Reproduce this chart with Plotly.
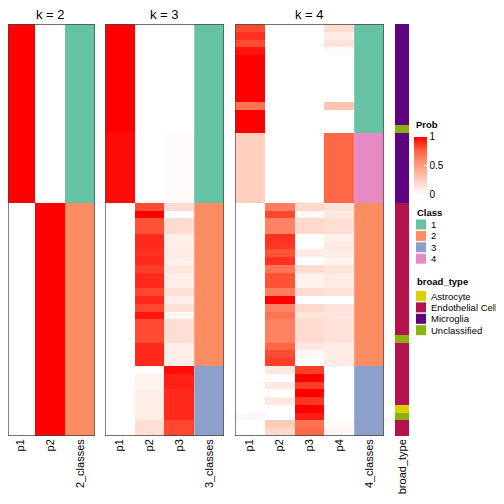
import plotly.graph_objects as go

# The page body has an 8px margin; the figure is sized so that it fills the 504px window.
OFF = 8
W = H = 504 - OFF

# ---------------- data ----------------
k2_p1 = [1.0] * 23 + [0.0] * 30
k2_p2 = [0.0] * 23 + [1.0] * 30
k2_class = [1] * 23 + [2] * 30

k3_p1 = [1.0] * 14 + [0.97] * 9 + [0.0] * 30
k3_p2 = [0.0] * 23 + [0.82, 1.0, 0.8, 0.8, 0.9, 0.9, 0.88, 0.9, 0.85, 0.9, 0.9, 0.83, 0.9, 0.83,
                      0.95, 0.82, 0.82, 0.82, 0.9, 0.9, 0.9] + \
        [0.01, 0.06, 0.06, 0.09, 0.09, 0.09, 0.09, 0.17, 0.17]
k3_p3 = [0.0] * 14 + [0.02] * 9 + [0.18, 0.0, 0.18, 0.18, 0.09, 0.09, 0.11, 0.08, 0.13, 0.09, 0.09,
                                    0.16, 0.09, 0.16, 0.04, 0.17, 0.17, 0.16, 0.09, 0.09, 0.09] + \
        [0.97, 0.92, 0.92, 0.9, 0.9, 0.9, 0.9, 0.83, 0.83]
k3_class = [1] * 23 + [2] * 21 + [3] * 9

k4_p1 = [0.82, 0.88, 0.82, 0.95, 1, 1, 1, 1, 1, 1, 0.7, 1, 1, 1] + [0.25] * 9 + \
        [0.0] * 27 + [0.04, 0.0, 0.0]
k4_p2 = [0.0] * 23 + [0.65, 0.83, 0.62, 0.62, 0.88, 0.87, 0.8, 0.88, 0.68, 0.8, 0.8, 0.65, 1.0,
                      0.62, 0.7, 0.63, 0.63, 0.63, 0.75, 0.82, 0.85] + \
        [0.12, 0.0, 0.12, 0.0, 0.12, 0.0, 0.0, 0.27, 0.2]
k4_p3 = [0.0] * 23 + [0.2, 0.03, 0.2, 0.2, 0.0, 0.0, 0.1, 0.0, 0.18, 0.06, 0.07, 0.18, 0.0, 0.2,
                      0.14, 0.18, 0.18, 0.18, 0.13, 0.04, 0.0] + \
        [0.85, 1.0, 0.85, 1.0, 0.87, 1.0, 0.93, 0.7, 0.75]
k4_p4 = [0.18, 0.1, 0.15, 0.03, 0, 0, 0, 0, 0, 0, 0.3, 0, 0, 0] + [0.75] * 9 + \
        [0.15, 0.12, 0.17, 0.17, 0.08, 0.11, 0.1, 0.06, 0.14, 0.1, 0.1, 0.15, 0.0, 0.15, 0.13,
         0.15, 0.15, 0.15, 0.1, 0.1, 0.1] + [0, 0, 0, 0, 0, 0, 0, 0.02, 0.05]
k4_class = [1] * 14 + [4] * 9 + [2] * 21 + [3] * 9

broad_type = (["Microglia"] * 13 + ["Unclassified"] + ["Microglia"] * 9 +
              ["Endothelial Cell"] * 17 + ["Unclassified"] + ["Endothelial Cell"] * 8 +
              ["Astrocyte"] + ["Unclassified"] + ["Endothelial Cell"] * 2)

class_labels = ["1", "2", "3", "4"]
class_colors = ["#66C2A5", "#FC8D62", "#8DA0CB", "#E78AC3"]
bt_labels = ["Astrocyte", "Endothelial Cell", "Microglia", "Unclassified"]
bt_colors = ["#DCD100", "#B3124D", "#5D037F", "#8BB10A"]

prob_scale = [[0, "#FFFFFF"], [0.25, "#FFCFBF"], [0.5, "#FF9E81"], [0.75, "#FF6846"], [1, "#FF0000"]]

N = len(k2_p1)
rows = list(range(N))


def discrete_scale(colors):
    n = len(colors)
    sc = []
    for i, c in enumerate(colors):
        sc.append([i / n, c])
        sc.append([(i + 1) / n, c])
    return sc


def px(v):
    return (v - OFF) / W


def py(v):
    return 1 - (v - OFF) / H


fig = go.Figure()

panels = [
    ("x", [k2_p1, k2_p2], k2_class, (5, 95), "k = 2"),
    ("x2", [k3_p1, k3_p2, k3_p3], k3_class, (105, 224), "k = 3"),
    ("x3", [k4_p1, k4_p2, k4_p3, k4_p4], k4_class, (235, 384), "k = 4"),
]

font_fam = "Liberation Sans, Arial, sans-serif"
ydom = [py(436), py(24)]

shapes = []
annotations = []

for idx, (xa, probs, cls, (x0, x1), title) in enumerate(panels):
    k = len(probs)
    z = [[p[i] for p in probs] for i in rows]
    fig.add_trace(go.Heatmap(
        z=z, x=list(range(k)), y=rows, xaxis=xa, yaxis="y",
        colorscale=prob_scale, zmin=0, zmax=1,
        showscale=(idx == 0),
        colorbar=dict(
            x=px(414), xanchor="left", y=py(165.5), yanchor="middle",
            len=58, lenmode="pixels", thickness=13, thicknessmode="pixels",
            outlinewidth=0, xpad=0, ypad=0,
            tickvals=[0, 0.5, 1], ticktext=["0", "0.5", "1"],
            ticks="inside", ticklen=3, tickcolor="white",
            tickfont=dict(size=10, family=font_fam, color="black"),
        ),
        hoverinfo="skip",
    ))
    fig.add_trace(go.Heatmap(
        z=[[c] for c in cls], x=[k], y=rows, xaxis=xa, yaxis="y",
        colorscale=discrete_scale(class_colors), zmin=0.5, zmax=4.5,
        showscale=False, hoverinfo="skip",
    ))
    # clip the panel to the visible page area, keeping cell widths unchanged
    colw = (x1 - x0) / (k + 1)
    vis_x0 = max(x0, OFF)
    r0 = -0.5 + (vis_x0 - x0) / colw
    axname = "xaxis" if xa == "x" else "xaxis" + xa[1:]
    fig.layout[axname] = dict(
        domain=[px(vis_x0), px(x1)], range=[r0, k + 0.5], anchor="y",
        tickmode="array", tickvals=list(range(k + 1)),
        ticktext=[f"p{j + 1}" for j in range(k)] + [f"{k}_classes"],
        tickangle=-90, showgrid=False, zeroline=False, showline=False, ticks="",
        tickfont=dict(size=11, family=font_fam, color="black"), fixedrange=True,
        automargin=False,
    )
    shapes.append(dict(type="rect", xref=xa, yref="y", x0=r0, x1=k + 0.5, y0=-0.5, y1=N - 0.5,
                       line=dict(color="#444444", width=1.3), fillcolor="rgba(0,0,0,0)"))
    annotations.append(dict(text=title, x=px((x0 + x1) / 2), y=py(14.5), xref="paper", yref="paper",
                            showarrow=False, font=dict(size=13, family=font_fam, color="black"),
                            xanchor="center", yanchor="middle", borderpad=0))

# broad_type annotation column
bt_codes = [bt_labels.index(b) + 1 for b in broad_type]
fig.add_trace(go.Heatmap(
    z=[[c] for c in bt_codes], x=[0], y=rows, xaxis="x4", yaxis="y",
    colorscale=discrete_scale(bt_colors), zmin=0.5, zmax=4.5,
    showscale=False, hoverinfo="skip",
))
fig.layout["xaxis4"] = dict(
    domain=[px(395), px(409)], range=[-0.5, 0.5], anchor="y",
    tickmode="array", tickvals=[0], ticktext=["broad_type"], tickangle=-90,
    showgrid=False, zeroline=False, showline=False, ticks="",
    tickfont=dict(size=11, family=font_fam, color="black"), fixedrange=True,
    automargin=False,
)

fig.layout["yaxis"] = dict(domain=ydom, range=[N - 0.5, -0.5], visible=False, fixedrange=True)

# legends
legend_font = dict(size=9.5, family=font_fam, color="black")
annotations.append(dict(text="<b>Prob</b>", x=px(415), y=py(125), xref="paper", yref="paper",
                        showarrow=False, xanchor="left", yanchor="middle", font=legend_font,
                        borderpad=0))


def add_discrete_legend(title, labels, colors, title_y, first_y, step):
    annotations.append(dict(text=f"<b>{title}</b>", x=px(415), y=py(title_y), xref="paper",
                            yref="paper", showarrow=False, xanchor="left", yanchor="middle",
                            font=legend_font))
    for i, (lab, col) in enumerate(zip(labels, colors)):
        yc = first_y + i * step
        shapes.append(dict(type="rect", xref="paper", yref="paper",
                           x0=px(416), x1=px(426), y0=py(yc - 5), y1=py(yc + 5),
                           line=dict(width=0), fillcolor=col))
        annotations.append(dict(text=lab, x=px(429), y=py(yc), xref="paper", yref="paper",
                                showarrow=False, xanchor="left", yanchor="middle", font=legend_font))


add_discrete_legend("Class", class_labels, class_colors, 212, 224.5, 11.4)
add_discrete_legend("broad_type", bt_labels, bt_colors, 281, 296, 11.4)

fig.update_layout(
    width=W, height=H, margin=dict(l=0, r=0, t=0, b=0),
    paper_bgcolor="white", plot_bgcolor="white",
    shapes=shapes, annotations=annotations, showlegend=False,
    font=dict(family=font_fam),
)

fig.write_html("out.html")
